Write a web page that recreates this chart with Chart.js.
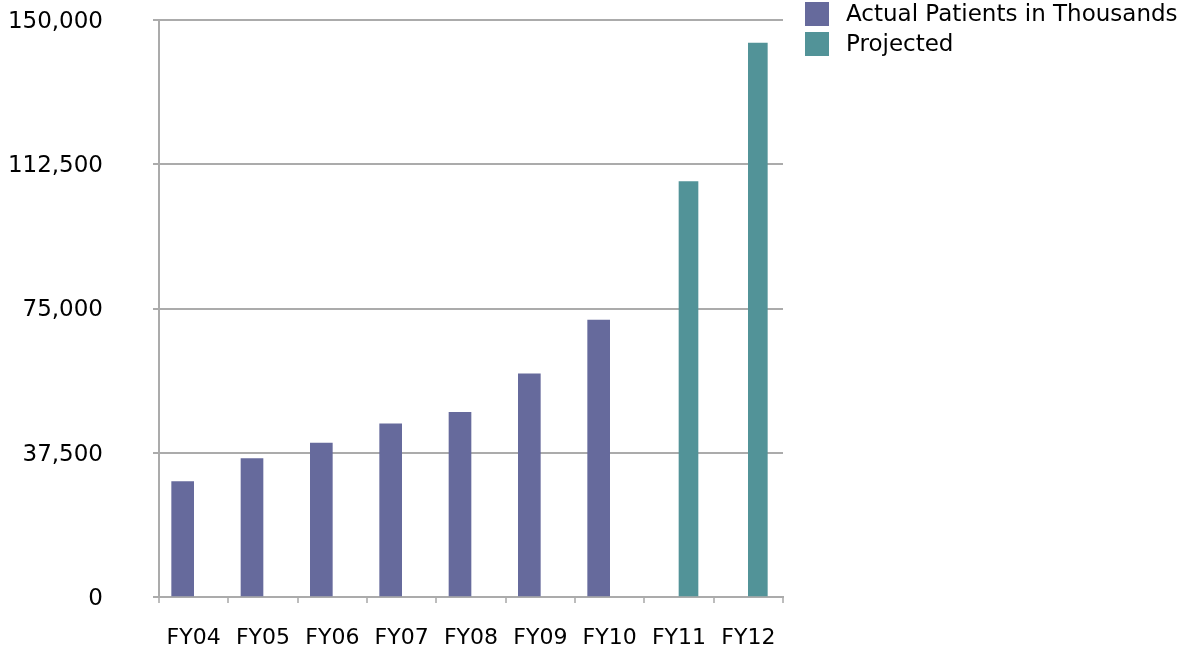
<!DOCTYPE html>
<html>
<head>
<meta charset="utf-8">
<script src="https://cdn.jsdelivr.net/npm/chart.js@4"></script>
<style>
  html, body { margin: 0; padding: 0; background: #ffffff; }
  #wrap { width: 1181px; height: 651px; position: relative; }
</style>
</head>
<body>
<div id="wrap"><canvas id="c" width="1181" height="651"></canvas></div>
<script>
// Fiscal years on the category axis
const categories = ['FY04', 'FY05', 'FY06', 'FY07', 'FY08', 'FY09', 'FY10', 'FY11', 'FY12'];
// Patients served (thousands), actual years
const actualPatients = [30000, 36000, 40000, 45000, 48000, 58000, 72000, null, null];
// Projected patients (thousands)
const projectedPatients = [null, null, null, null, null, null, null, 108000, 144000];
// Value axis ticks
const yTicks = [0, 37500, 75000, 112500, 150000];
const seriesNames = ['Actual Patients in Thousands', 'Projected'];

const FONT = 'DejaVu Sans, Verdana, sans-serif';
const GRID = '#ababab';

// Legend drawn beside the plot, top-right
const sideLegend = {
  id: 'sideLegend',
  afterDraw(chart) {
    const ctx = chart.ctx;
    const x0 = chart.chartArea.right + 22;
    ctx.save();
    ctx.font = '23px ' + FONT;
    ctx.textBaseline = 'middle';
    ctx.textAlign = 'left';
    chart.data.datasets.forEach((ds, i) => {
      const y = 2 + i * 30;
      ctx.fillStyle = ds.backgroundColor;
      ctx.fillRect(x0, y, 24, 24);
      ctx.fillStyle = '#000000';
      ctx.fillText(ds.label, x0 + 41, y + 13);
    });
    ctx.restore();
  }
};

new Chart(document.getElementById('c'), {
  type: 'bar',
  data: {
    labels: categories,
    datasets: [
      { label: seriesNames[0], data: actualPatients, backgroundColor: '#666a9c', barThickness: 22 },
      { label: seriesNames[1], data: projectedPatients, backgroundColor: '#529398', barThickness: 19 }
    ]
  },
  options: {
    responsive: false,
    animation: false,
    layout: { padding: { top: 20, right: 398, left: 0, bottom: 0 } },
    plugins: { legend: { display: false }, tooltip: { enabled: false } },
    scales: {
      x: {
        grid: { offset: true, drawOnChartArea: false, drawTicks: true, tickLength: 6, color: '#bdbdbd', lineWidth: 2 },
        border: { display: true, color: GRID, width: 2 },
        ticks: { color: '#000000', font: { family: FONT, size: 22 }, padding: 22, maxRotation: 0 },
        afterFit(scale) { scale.height = 54; }
      },
      y: {
        min: 0,
        max: 150000,
        afterBuildTicks(scale) { scale.ticks = yTicks.map(v => ({ value: v })); },
        grid: { color: GRID, lineWidth: 2, tickLength: 6 },
        border: { display: true, color: GRID, width: 2 },
        ticks: {
          color: '#000000',
          font: { family: FONT, size: 23 },
          padding: 50,
          labelOffset: 2,
          callback: v => Number(v).toLocaleString('en-US')
        },
        afterFit(scale) {
          scale.width = 159;
          scale.paddingTop = 0;
          scale.paddingBottom = 0;
        }
      }
    }
  },
  plugins: [sideLegend]
});
</script>
</body>
</html>
